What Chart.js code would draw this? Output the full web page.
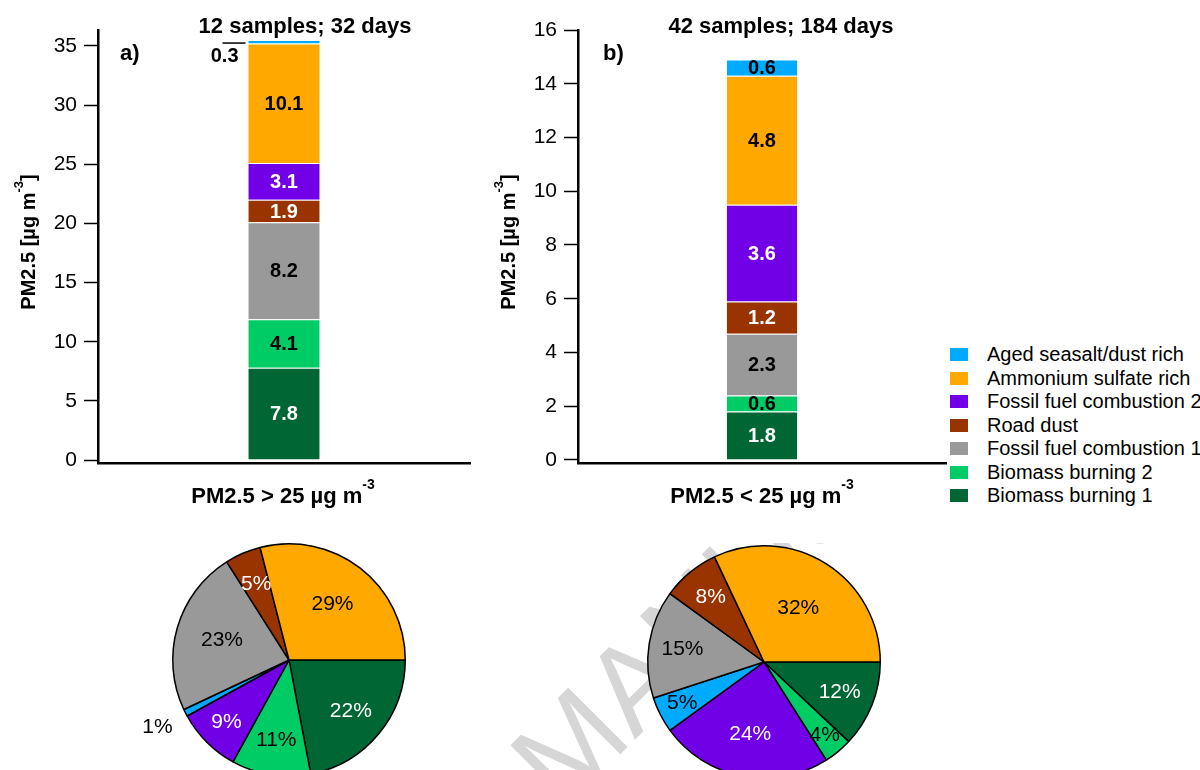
<!DOCTYPE html>
<html>
<head>
<meta charset="utf-8">
<script src="https://cdn.jsdelivr.net/npm/chart.js@4.4.0/dist/chart.umd.min.js"></script>
<style>
  body { margin: 0; width: 1200px; height: 770px; overflow: hidden; background: #fff; position: relative;
         font-family: "Liberation Sans", Arial, sans-serif; }
  canvas { position: absolute; }
  #watermark { position: absolute; left: 0; top: 543px; width: 1200px; height: 227px; overflow: hidden; }
  #watermark span { position: absolute; left: 490px; top: 196px; font-size: 122px; line-height: 1;
                    color: #d6d6d6; white-space: nowrap; transform: rotate(-45deg); transform-origin: 0 0; }
  #legend { position: absolute; left: 950px; top: 343px; font-size: 20px; color: #000; }
  #legend .row { height: 23.5px; display: flex; align-items: center; white-space: nowrap; }
  #legend .sw { width: 18px; height: 13px; margin-right: 19px; }
</style>
</head>
<body>
<div id="watermark"><span>MANUSCRIPT</span></div>
<canvas id="barA" width="480" height="520" style="left:0;top:0"></canvas>
<canvas id="barB" width="470" height="520" style="left:480px;top:0"></canvas>
<canvas id="pieA" width="320" height="236" style="left:129px;top:542px"></canvas>
<canvas id="pieB" width="320" height="236" style="left:604px;top:544px"></canvas>
<div id="legend"></div>
<script>
const family = '"Liberation Sans", Arial, sans-serif';

// sources in stacking order (bottom -> top)
const sources = ['Biomass burning 1', 'Biomass burning 2', 'Fossil fuel combustion 1', 'Road dust',
                 'Fossil fuel combustion 2', 'Ammonium sulfate rich', 'Aged seasalt/dust rich'];
const colors = ['#006633', '#00CC66', '#999999', '#993300', '#7200E6', '#FFA800', '#00AAFF'];
const inks = ['#fff', '#000', '#000', '#fff', '#fff', '#000', '#000']; // label colour on each fill

// PM2.5 > 25 and < 25 source contributions [ug m-3]
const barHigh = [7.8, 4.1, 8.2, 1.9, 3.1, 10.1, 0.3];
const barLow = [1.8, 0.6, 2.3, 1.2, 3.6, 4.8, 0.6];
const yTicksA = [0, 5, 10, 15, 20, 25, 30, 35];
const yTicksB = [0, 2, 4, 6, 8, 10, 12, 14, 16];

// pies go clockwise from 3 o'clock in this order
const pieOrder = ['Biomass burning 1', 'Biomass burning 2', 'Fossil fuel combustion 2', 'Aged seasalt/dust rich',
                  'Fossil fuel combustion 1', 'Road dust', 'Ammonium sulfate rich'];
const pieHigh = [22, 11, 9, 1, 23, 5, 29];
const pieLow = [12, 4, 24, 5, 15, 8, 32];

const legendOrder = sources.slice().reverse();

const colorOf = name => colors[sources.indexOf(name)];
const inkOf = name => inks[sources.indexOf(name)];

// text with a superscript part, e.g. "µg m" + "-3"
const supText = (ctx, main, sup, tail, cx, y, size) => {
  const supSize = Math.round(size * 0.65);
  ctx.font = 'bold ' + size + 'px ' + family;
  const w1 = ctx.measureText(main).width, w3 = ctx.measureText(tail).width;
  ctx.font = 'bold ' + supSize + 'px ' + family;
  const w2 = ctx.measureText(sup).width;
  let x = cx - (w1 + w2 + w3) / 2;
  ctx.textAlign = 'left';
  ctx.textBaseline = 'alphabetic';
  ctx.font = 'bold ' + size + 'px ' + family;
  ctx.fillText(main, x, y);
  x += w1;
  ctx.font = 'bold ' + supSize + 'px ' + family;
  ctx.fillText(sup, x, y - size * 0.62);
  x += w2;
  ctx.font = 'bold ' + size + 'px ' + family;
  ctx.fillText(tail, x, y);
};

const barLabels = {
  id: 'barLabels',
  afterDatasetsDraw(chart) {
    const ctx = chart.ctx;
    ctx.save();
    ctx.font = 'bold 20px ' + family;
    ctx.textBaseline = 'middle';
    chart.data.datasets.forEach((ds, i) => {
      const bar = chart.getDatasetMeta(i).data[0];
      const v = ds.data[0];
      const h = Math.abs(bar.base - bar.y);
      if (h < 8) { // too thin, put it outside with a leader line
        const left = bar.x - bar.width / 2;
        ctx.fillStyle = '#000';
        ctx.textAlign = 'right';
        ctx.fillText(v.toFixed(1), left - 9, bar.y + 16);
        ctx.strokeStyle = '#000';
        ctx.lineWidth = 1.5;
        ctx.beginPath();
        ctx.moveTo(left - 25, bar.y + 3);
        ctx.lineTo(left - 2, bar.y + 3);
        ctx.stroke();
      } else {
        ctx.fillStyle = inks[i];
        ctx.textAlign = 'center';
        ctx.fillText(v.toFixed(1), bar.x, (bar.y + bar.base) / 2 + 1);
      }
    });
    ctx.restore();
  }
};

const decor = (title, titleX, tag, tagX, tagY, xTitle, xTitleX) => ({
  id: 'decor',
  afterDraw(chart) {
    const ctx = chart.ctx;
    ctx.save();
    ctx.fillStyle = '#000';
    ctx.font = 'bold 22px ' + family;
    ctx.textAlign = 'center';
    ctx.textBaseline = 'alphabetic';
    ctx.fillText(title, titleX, 33);
    ctx.textAlign = 'left';
    ctx.fillText(tag, tagX, tagY);
    supText(ctx, xTitle, '-3', '', xTitleX, 503, 22);
    ctx.translate(35, 242);
    ctx.rotate(-Math.PI / 2);
    supText(ctx, 'PM2.5 [µg m', '-3', ']', 0, 0, 20);
    ctx.restore();
  }
});

const makeBar = (id, values, yMin, yMax, ticks, rightPad, deco) => new Chart(document.getElementById(id), {
  type: 'bar',
  data: {
    labels: [''],
    datasets: sources.map((s, i) => ({
      label: s,
      data: [values[i]],
      backgroundColor: colors[i],
      borderColor: 'rgba(255,255,255,0.55)',
      borderWidth: 1,
      barPercentage: 0.196,
      categoryPercentage: 1
    }))
  },
  options: {
    responsive: false,
    animation: false,
    layout: { padding: { left: 0, top: 30, right: rightPad, bottom: 0 } },
    plugins: { legend: { display: false }, tooltip: { enabled: false } },
    scales: {
      x: {
        stacked: true,
        grid: { display: false },
        ticks: { display: false },
        border: { display: true, color: '#000', width: 2.5 },
        afterFit: s => { s.height = 57; }
      },
      y: {
        stacked: true,
        min: yMin,
        max: yMax,
        afterBuildTicks: s => { s.ticks = ticks.map(v => ({ value: v })); },
        grid: { drawOnChartArea: false, drawTicks: true, tickLength: 14, tickColor: '#000', tickWidth: 1.5 },
        border: { display: true, color: '#000', width: 2.5 },
        ticks: { color: '#000', font: { family: family, size: 21 }, padding: 7 },
        afterFit: s => { s.width = 98; }
      }
    }
  },
  plugins: [barLabels, deco]
});

makeBar('barA', barHigh, -0.25, 36.35, yTicksA, 10,
  decor('12 samples; 32 days', 305, 'a)', 120, 60, 'PM2.5 > 25 µg m', 283));
makeBar('barB', barLow, -0.112, 16, yTicksB, 4,
  decor('42 samples; 184 days', 301, 'b)', 123, 60, 'PM2.5 < 25 µg m', 282));

const pieLabels = radii => ({
  id: 'pieLabels',
  afterDatasetsDraw(chart) {
    const ctx = chart.ctx;
    ctx.save();
    ctx.font = '21px ' + family;
    ctx.textAlign = 'center';
    ctx.textBaseline = 'middle';
    chart.getDatasetMeta(0).data.forEach((arc, i) => {
      const mid = (arc.startAngle + arc.endAngle) / 2;
      const r = arc.outerRadius * radii[i];
      ctx.fillStyle = radii[i] > 1 ? '#000' : inkOf(pieOrder[i]);
      ctx.fillText(chart.data.datasets[0].data[i] + '%', arc.x + Math.cos(mid) * r, arc.y + Math.sin(mid) * r);
    });
    ctx.restore();
  }
});

const makePie = (id, values, radii) => new Chart(document.getElementById(id), {
  type: 'pie',
  data: {
    labels: pieOrder,
    datasets: [{
      data: values,
      backgroundColor: pieOrder.map(colorOf),
      borderColor: '#000',
      borderWidth: 1.5
    }]
  },
  options: {
    responsive: false,
    animation: false,
    rotation: 90,
    layout: { padding: 1 },
    plugins: { legend: { display: false }, tooltip: { enabled: false } }
  },
  plugins: [pieLabels(radii)]
});

// how far out (fraction of radius) each percentage sits
makePie('pieA', pieHigh, [0.69, 0.7, 0.76, 1.27, 0.6, 0.71, 0.61]);
makePie('pieB', pieLow, [0.7, 0.82, 0.63, 0.79, 0.71, 0.72, 0.55]);

// legend, top to bottom
const legend = document.getElementById('legend');
legendOrder.forEach(name => {
  const row = document.createElement('div');
  row.className = 'row';
  row.innerHTML = '<div class="sw" style="background:' + colorOf(name) + '"></div><span>' + name + '</span>';
  legend.appendChild(row);
});
</script>
</body>
</html>
